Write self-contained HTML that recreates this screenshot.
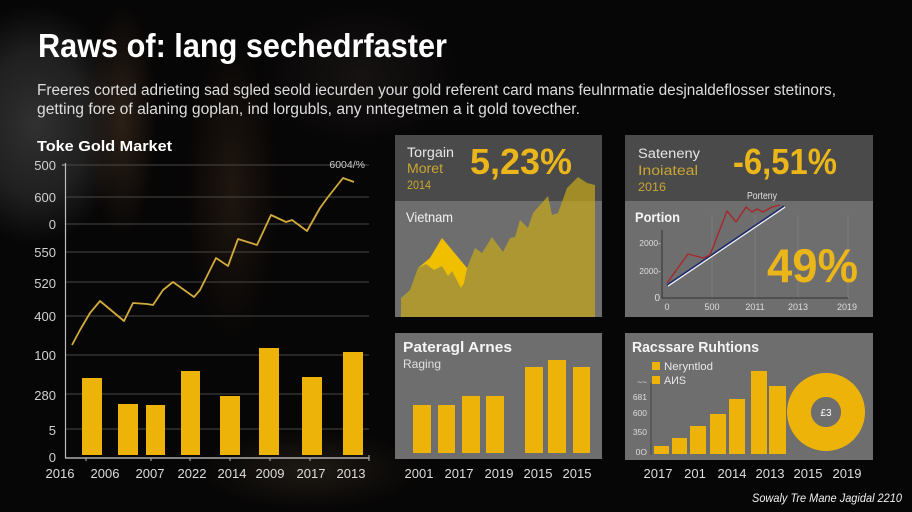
<!DOCTYPE html>
<html><head><meta charset="utf-8"><style>
html,body{margin:0;padding:0;background:#070606;width:912px;height:512px;overflow:hidden;}
svg{display:block;}
text{font-family:"Liberation Sans",sans-serif;}
</style></head><body>
<svg width="912" height="512" viewBox="0 0 912 512" xmlns="http://www.w3.org/2000/svg">
<defs>
<radialGradient id="g1"><stop offset="0" stop-color="#313131" stop-opacity="1"/><stop offset="0.6" stop-color="#282828" stop-opacity="0.75"/><stop offset="1" stop-color="#262626" stop-opacity="0"/></radialGradient>
<radialGradient id="g2"><stop offset="0" stop-color="#2c2016" stop-opacity="1"/><stop offset="1" stop-color="#2c2016" stop-opacity="0"/></radialGradient>
<radialGradient id="g3"><stop offset="0" stop-color="#1f160f" stop-opacity="1"/><stop offset="1" stop-color="#1f160f" stop-opacity="0"/></radialGradient>
<radialGradient id="g4"><stop offset="0" stop-color="#1e1913" stop-opacity="1"/><stop offset="1" stop-color="#1e1913" stop-opacity="0"/></radialGradient>
<radialGradient id="g5"><stop offset="0" stop-color="#161212" stop-opacity="1"/><stop offset="1" stop-color="#161212" stop-opacity="0"/></radialGradient>
</defs>
<rect width="912" height="512" fill="#070606"/>
<ellipse cx="35" cy="125" rx="90" ry="120" fill="url(#g1)"/>
<ellipse cx="122" cy="120" rx="35" ry="115" fill="url(#g2)"/>
<ellipse cx="232" cy="190" rx="45" ry="150" fill="url(#g3)"/>
<ellipse cx="360" cy="75" rx="100" ry="70" fill="url(#g5)"/>
<ellipse cx="310" cy="470" rx="110" ry="40" fill="url(#g4)"/>

<!-- Title -->
<text x="38" y="57" font-size="33" font-weight="bold" fill="#ffffff" textLength="409" lengthAdjust="spacingAndGlyphs">Raws of: lang sechedrfaster</text>
<text x="37" y="95" font-size="15.5" fill="#dddddd" textLength="799" lengthAdjust="spacingAndGlyphs">Freeres corted adrieting sad sgled seold iecurden your gold referent card mans feulnrmatie desjnaldeflosser stetinors,</text>
<text x="37" y="114" font-size="15.5" fill="#dddddd" textLength="543" lengthAdjust="spacingAndGlyphs">getting fore of alaning goplan, ind lorgubls, any nntegetmen a it gold tovecther.</text>

<!-- Left chart -->
<text x="37" y="151" font-size="15" font-weight="bold" fill="#ffffff" textLength="135" lengthAdjust="spacingAndGlyphs">Toke Gold Market</text>
<g stroke="#4a4844" stroke-width="1">
<line x1="66" y1="165" x2="369" y2="165"/>
<line x1="66" y1="197" x2="369" y2="197"/>
<line x1="66" y1="224" x2="369" y2="224"/>
<line x1="66" y1="252" x2="369" y2="252"/>
<line x1="66" y1="282" x2="369" y2="282"/>
<line x1="66" y1="316" x2="369" y2="316"/>
<line x1="66" y1="355" x2="369" y2="355"/>
<line x1="66" y1="394" x2="369" y2="394"/>
<line x1="66" y1="429" x2="369" y2="429"/>
</g>
<line x1="65.5" y1="163" x2="65.5" y2="458" stroke="#bbbbbb" stroke-width="1.2"/>
<line x1="65" y1="458" x2="369" y2="458" stroke="#cccccc" stroke-width="1.2"/>
<g stroke="#bbbbbb" stroke-width="1">
<line x1="62" y1="165" x2="66" y2="165"/>
<line x1="86" y1="458" x2="86" y2="461"/>
<line x1="151" y1="458" x2="151" y2="461"/>
<line x1="190" y1="458" x2="190" y2="461"/>
<line x1="230" y1="458" x2="230" y2="461"/>
<line x1="270" y1="458" x2="270" y2="461"/>
<line x1="310" y1="458" x2="310" y2="461"/>
<line x1="369" y1="455" x2="369" y2="461"/>
</g>
<g font-size="13" fill="#d0d0d0" text-anchor="end">
<text x="56" y="170">500</text>
<text x="56" y="202">600</text>
<text x="56" y="229">0</text>
<text x="56" y="257">550</text>
<text x="56" y="288">520</text>
<text x="56" y="321">400</text>
<text x="56" y="360">100</text>
<text x="56" y="400">280</text>
<text x="56" y="435">5</text>
<text x="56" y="462">0</text>
</g>
<text x="365" y="168" font-size="10.5" fill="#cccccc" text-anchor="end">6004/%</text>
<polyline fill="none" stroke="#d2ab3c" stroke-width="1.8" stroke-linejoin="round" points="72,345 80,330 90,313 100,301 124,321 133,303 147,304 153,305 163,290 173,282 194,297 200,290 216,258 228,266 238,239 257,245 271,215 286,222 292,220 307,231 320,208 328,197 343,178 354,182"/>
<g fill="#eeb308">
<rect x="82" y="378" width="20" height="77"/>
<rect x="118" y="404" width="20" height="51"/>
<rect x="146" y="405" width="19" height="50"/>
<rect x="181" y="371" width="19" height="84"/>
<rect x="220" y="396" width="20" height="59"/>
<rect x="259" y="348" width="20" height="107"/>
<rect x="302" y="377" width="20" height="78"/>
<rect x="343" y="352" width="20" height="103"/>
</g>
<g font-size="13" fill="#dddddd" text-anchor="middle">
<text x="60" y="478">2016</text>
<text x="105" y="478">2006</text>
<text x="150" y="478">2007</text>
<text x="192" y="478">2022</text>
<text x="232" y="478">2014</text>
<text x="270" y="478">2009</text>
<text x="311" y="478">2017</text>
<text x="351" y="478">2013</text>
</g>

<!-- Panel A -->
<rect x="395" y="135" width="207" height="182" fill="#6e6e6e"/>
<rect x="395" y="135" width="207" height="66" fill="#4a4a4a"/>
<polygon fill="rgba(200,168,24,0.70)" points="401,317 401,298 410,290 418,268 430,258 442,238 467,268 475,248 482,253 492,237 503,252 510,238 515,237 520,220 528,228 533,213 548,196 552,215 558,213 567,188 578,177 587,183 595,185 595,317"/>
<polygon fill="#f0c000" points="418,268 430,258 442,238 467,268 464,283 461,288 452,271 448,276 442,266 434,270 426,264"/>
<text x="407" y="157" font-size="13.5" fill="#e6e6e6" textLength="47" lengthAdjust="spacingAndGlyphs">Torgain</text>
<text x="407" y="173" font-size="13.5" fill="#c9a632" textLength="36" lengthAdjust="spacingAndGlyphs">Moret</text>
<text x="407" y="189" font-size="11.5" fill="#c9a632" textLength="24" lengthAdjust="spacingAndGlyphs">2014</text>
<text x="470" y="174" font-size="36" font-weight="bold" fill="#ebb619" textLength="102" lengthAdjust="spacingAndGlyphs">5,23%</text>
<text x="406" y="222" font-size="14" fill="#f2f2f2" textLength="47" lengthAdjust="spacingAndGlyphs">Vietnam</text>

<!-- Panel B -->
<rect x="625" y="135" width="248" height="182" fill="#6e6e6e"/>
<rect x="625" y="135" width="248" height="66" fill="#4a4a4a"/>
<g stroke="#7c7c7c" stroke-width="1">
<line x1="712" y1="215" x2="712" y2="298"/>
<line x1="755" y1="215" x2="755" y2="298"/>
<line x1="798" y1="215" x2="798" y2="298"/>
<line x1="848" y1="215" x2="848" y2="298"/>
</g>
<text x="638" y="158" font-size="13.5" fill="#e6e6e6" textLength="62" lengthAdjust="spacingAndGlyphs">Sateneny</text>
<text x="638" y="175" font-size="13.5" fill="#c9a632" textLength="60" lengthAdjust="spacingAndGlyphs">Inoiateal</text>
<text x="638" y="191" font-size="12" fill="#c9a632" textLength="28" lengthAdjust="spacingAndGlyphs">2016</text>
<text x="733" y="174" font-size="36" font-weight="bold" fill="#ebb619" textLength="104" lengthAdjust="spacingAndGlyphs">-6,51%</text>
<text x="747" y="199" font-size="10" fill="#e0e0e0" textLength="30" lengthAdjust="spacingAndGlyphs">Porteny</text>
<text x="635" y="222" font-size="14" font-weight="bold" fill="#f5f5f5" textLength="45" lengthAdjust="spacingAndGlyphs">Portion</text>
<line x1="662" y1="230" x2="662" y2="298" stroke="#333" stroke-width="1"/>
<line x1="662" y1="298" x2="848" y2="298" stroke="#333" stroke-width="1"/>
<g font-size="8.5" fill="#dddddd" text-anchor="end">
<text x="661" y="246">2000-</text>
<text x="661" y="274">2000-</text>
<text x="660" y="301" font-size="10">0</text>
</g>
<g font-size="9" fill="#dddddd" text-anchor="middle">
<text x="667" y="310">0</text>
<text x="712" y="310">500</text>
<text x="755" y="310">2011</text>
<text x="798" y="310">2013</text>
<text x="847" y="310">2019</text>
</g>
<line x1="667" y1="285" x2="784" y2="206" stroke="#f0f0f0" stroke-width="1.4" transform="translate(1,1)"/>
<line x1="667" y1="285" x2="784" y2="206" stroke="#1e2a6e" stroke-width="1.6"/>
<polyline fill="none" stroke="#a8282a" stroke-width="1.4" stroke-linejoin="round" points="667,283 688,254 703,258 710,255 727,211 736,222 746,207 752,212 757,209 763,212 772,207 780,205"/>
<text x="767" y="282" font-size="47" font-weight="bold" fill="#ebb619" textLength="91" lengthAdjust="spacingAndGlyphs">49%</text>

<!-- Panel C -->
<rect x="395" y="333" width="207" height="126" fill="#6e6e6e"/>
<text x="403" y="352" font-size="15" font-weight="bold" fill="#f5f5f5" textLength="109" lengthAdjust="spacingAndGlyphs">Pateragl Arnes</text>
<text x="403" y="368" font-size="12" fill="#e0e0e0" textLength="38" lengthAdjust="spacingAndGlyphs">Raging</text>
<g fill="#eeb308">
<rect x="413" y="405" width="18" height="48"/>
<rect x="438" y="405" width="17" height="48"/>
<rect x="462" y="396" width="18" height="57"/>
<rect x="486" y="396" width="18" height="57"/>
<rect x="525" y="367" width="18" height="86"/>
<rect x="548" y="360" width="18" height="93"/>
<rect x="573" y="367" width="17" height="86"/>
</g>
<g font-size="13" fill="#dddddd" text-anchor="middle">
<text x="419" y="478">2001</text>
<text x="459" y="478">2017</text>
<text x="499" y="478">2019</text>
<text x="538" y="478">2015</text>
<text x="577" y="478">2015</text>
</g>

<!-- Panel D -->
<rect x="625" y="333" width="248" height="127" fill="#6e6e6e"/>
<text x="632" y="352" font-size="15" font-weight="bold" fill="#f5f5f5" textLength="127" lengthAdjust="spacingAndGlyphs">Racssare Ruhtions</text>
<rect x="652" y="362" width="8" height="8" fill="#eeb308"/>
<rect x="652" y="376" width="8" height="8" fill="#eeb308"/>
<text x="664" y="370" font-size="11" fill="#e8e8e8" textLength="49" lengthAdjust="spacingAndGlyphs">Neryntlod</text>
<text x="664" y="384" font-size="11" fill="#e8e8e8" textLength="22" lengthAdjust="spacingAndGlyphs">AИS</text>
<line x1="651" y1="383" x2="651" y2="455" stroke="#444" stroke-width="1"/>
<g font-size="8.5" fill="#dddddd" text-anchor="end">
<text x="647" y="385">~~</text>
<text x="647" y="400">681</text>
<text x="647" y="416">600</text>
<text x="647" y="435">350</text>
<text x="647" y="455">0O</text>
</g>
<g fill="#eeb308">
<rect x="654" y="446" width="15" height="8"/>
<rect x="672" y="438" width="15" height="16"/>
<rect x="690" y="426" width="16" height="28"/>
<rect x="710" y="414" width="16" height="40"/>
<rect x="729" y="399" width="16" height="55"/>
<rect x="751" y="371" width="16" height="83"/>
<rect x="769" y="386" width="17" height="68"/>
</g>
<circle cx="826" cy="412" r="27" fill="none" stroke="#eeb308" stroke-width="24"/>
<circle cx="826" cy="412" r="15" fill="#6e6e6e"/>
<text x="826" y="416" font-size="10" fill="#ffffff" text-anchor="middle">£3</text>
<g font-size="13" fill="#dddddd" text-anchor="middle">
<text x="658" y="478">2017</text>
<text x="695" y="478">201</text>
<text x="732" y="478">2014</text>
<text x="770" y="478">2013</text>
<text x="808" y="478">2015</text>
<text x="847" y="478">2019</text>
</g>

<!-- footer -->
<text x="752" y="502" font-size="12" font-style="italic" fill="#f0f0f0" textLength="150" lengthAdjust="spacingAndGlyphs">Sowaly Tre Mane Jagidal 2210</text>
</svg>
</body></html>
